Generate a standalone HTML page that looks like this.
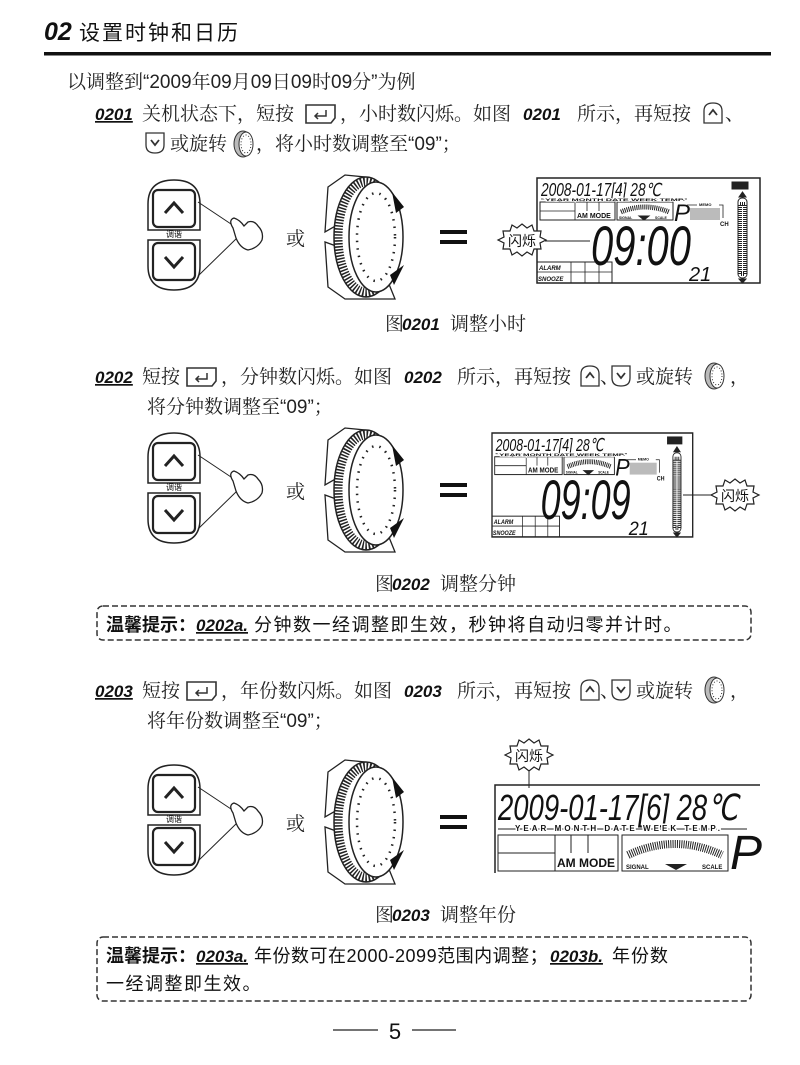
<!DOCTYPE html>
<html><head><meta charset="utf-8"><style>
html,body{margin:0;padding:0;background:#fff;width:800px;height:1065px;overflow:hidden}
svg{display:block}
.s{font-family:"Liberation Sans","Noto Serif CJK SC",serif;font-size:19px;fill:#222}
.h{font-family:"Liberation Sans","Noto Sans CJK SC",sans-serif;fill:#111}
.b{font-family:"Liberation Sans",sans-serif;font-weight:bold;font-style:italic;font-size:17px;fill:#111}
.u{text-decoration:underline}
.lcd{font-family:"Liberation Sans",sans-serif;font-style:italic;fill:#111}
.sm{font-family:"Liberation Sans",sans-serif;font-weight:bold;fill:#111}
</style></head><body>
<svg width="800" height="1065" viewBox="0 0 800 1065" xmlns="http://www.w3.org/2000/svg">
<defs>
 <g id="btns" fill="#fff" stroke="#222">
  <path d="M0,50 L0,24 Q0,0 26,0 Q52,0 52,24 L52,50 Z" stroke-width="1.5"/>
  <rect x="5" y="10" width="42" height="37" rx="5" stroke-width="2.2"/>
  <path d="M17,33 L26,23 L35,33" fill="none" stroke-width="3"/>
  <path d="M0,60 L0,86 Q0,110 26,110 Q52,110 52,86 L52,60 Z" stroke-width="1.5"/>
  <rect x="5" y="63" width="42" height="37" rx="5" stroke-width="2.2"/>
  <path d="M17,77 L26,87 L35,77" fill="none" stroke-width="3"/>
  <path d="M50,22 L92,50 M50,96 L90,57" stroke-width="1"/>
  <path d="M85,48 Q80,40 86,38 Q92,40 96,46 L100,42 Q106,40 110,46 Q116,52 114,60 Q110,68 100,70 Q92,68 88,58 Z" stroke-width="1.3"/>
 </g>
 <g id="dial">
  <path d="M-42,-50 L-25,-62 L-5,-60 L-10,-25 L-45,-5 Z" fill="#fff" stroke="#222" stroke-width="1.3"/>
  <path d="M-42,50 L-25,62 L25,62 L10,25 L-45,5 Z" fill="#fff" stroke="#222" stroke-width="1.3"/>
  <ellipse cx="-4" cy="0" rx="32" ry="60" fill="#fff" stroke="#222" stroke-width="1.5"/>
  <ellipse cx="-4" cy="0" rx="28" ry="55" fill="none" stroke="#222" stroke-width="9" stroke-dasharray="1.5 1.5"/>
  <ellipse cx="6" cy="0" rx="27" ry="55" fill="#fff" stroke="#222" stroke-width="1.5"/>
  <ellipse cx="6" cy="0" rx="19" ry="44" fill="none" stroke="#222" stroke-width="2.5" stroke-dasharray="1.5 6"/>
  <path d="M22,-45 L34,-30 L26,-24 Z M20,38 L34,28 L24,48 Z" fill="#111"/>
 </g>
 <g id="bigeq"><rect x="0" y="0" width="27" height="4" fill="#111"/><rect x="0" y="10" width="27" height="4" fill="#111"/></g>
 <g id="kup" fill="#fff" stroke="#333" stroke-width="1.3"><path d="M0,20 L0,8 Q0,0 9,0 Q18,0 18,8 L18,20 Z"/><path d="M5,12 L9,7 L13,12" fill="none" stroke-width="1.8"/></g>
 <g id="kdn" fill="#fff" stroke="#333" stroke-width="1.3"><path d="M0,0 L0,12 Q0,20 9,20 Q18,20 18,12 L18,0 Z"/><path d="M5,7 L9,12 L13,7" fill="none" stroke-width="1.8"/></g>
 <g id="kent" fill="#fff" stroke="#333" stroke-width="1.6"><path d="M1,1 L30,1 L30,14 L26,19 L1,19 Z"/><path d="M21,6 L21,12 L10,12 M13,9 L10,12 L13,15" fill="none" stroke-width="1.5"/></g>
 <g id="kdial"><ellipse cx="10" cy="11" rx="9" ry="13" fill="#bbb" stroke="#333"/><ellipse cx="13" cy="11" rx="7" ry="12" fill="#fff" stroke="#333"/><ellipse cx="13" cy="11" rx="5" ry="9" fill="none" stroke="#333" stroke-dasharray="1 2"/></g>
 <g id="burst"><polygon points="0,-16 5,-12 10,-15 12,-9 19,-9 18,-3 24,0 18,3 19,9 12,9 10,15 5,12 0,16 -5,12 -10,15 -12,9 -19,9 -18,3 -24,0 -18,-3 -19,-9 -12,-9 -10,-15 -5,-12" fill="#fff" stroke="#222" stroke-width="1.2"/></g>
 <g id="lcdshape" fill="none" stroke="#222">
  <rect x="0" y="0" width="223" height="105" stroke-width="1.5"/>
  <rect x="195" y="4" width="16" height="7" fill="#222" stroke-width="1"/>
  <path d="M4,21 L150,21" stroke-width="0.8"/>
  <rect x="3" y="24" width="75" height="18" stroke-width="1"/>
  <path d="M3,33 L38,33 M38,24 L38,42 M50,24 L50,33 M62,24 L62,33" stroke-width="0.8"/>
  <rect x="80" y="24" width="56" height="18" stroke-width="1"/>
  <path d="M84,34 Q108,24 132,34" stroke-width="5" stroke-dasharray="1 1"/>
  <path d="M102,38 L112,38 L107,42 Z" fill="#222"/>
  <path d="M150,27 L160,27 M182,27 L186,27 L186,40" stroke-width="0.8"/>
  <rect x="153" y="30" width="30" height="12" fill="#bbb" stroke="none"/>
  <rect x="0" y="84" width="75" height="21" stroke-width="1"/>
  <path d="M0,94 L75,94 M34,84 L34,105 M48,84 L48,105 M62,84 L62,105" stroke-width="0.8"/>
  <rect x="201" y="20" width="9" height="80" rx="4" stroke-width="1"/>
  <rect x="203" y="26" width="5" height="70" fill="none" stroke-width="4" stroke-dasharray="1 1"/>
  <path d="M202,19 L209,19 L205.5,14 Z M202,101 L209,101 L205.5,105 Z" fill="#222"/>
 </g>
</defs>

<text x="44" y="40" class="h" font-size="25" font-weight="bold" font-style="italic">02</text>
<text x="79" y="40" class="h" font-size="21" letter-spacing="2">设置时钟和日历</text>
<rect x="44" y="52" width="727" height="3.5" fill="#111"/>

<text x="67" y="88" class="s" font-size="18">以调整到“2009年09月09日09时09分”为例</text>

<text x="95" y="120" class="b u">0201</text>
<text x="142" y="120" class="s">关机状态下，短按</text>
<use href="#kent" x="305" y="104"/>
<text x="340" y="120" class="s">，小时数闪烁。如图</text>
<text x="523" y="120" class="b">0201</text>
<text x="577" y="120" class="s">所示，再短按</text>
<use href="#kup" x="704" y="103"/>
<text x="725" y="120" class="s">、</text>
<use href="#kdn" x="146" y="133"/>
<text x="170" y="150" class="s">或旋转</text>
<use href="#kdial" x="233" y="133"/>
<text x="256" y="150" class="s">，将小时数调整至“09”；</text>

<use href="#btns" x="148" y="180"/>
<text x="174" y="237" class="h" font-size="8" text-anchor="middle">调谐</text>
<text x="286" y="245" class="s" font-size="20">或</text>
<use href="#dial" x="370" y="237"/>
<use href="#bigeq" x="440" y="230"/>
<g transform="translate(537,178)">
 <use href="#lcdshape"/>
 <text x="4" y="18" class="lcd" font-size="18" textLength="120" lengthAdjust="spacingAndGlyphs">2008-01-17[4] 28℃</text>
 <text x="8" y="23" class="sm" font-size="4" textLength="140" lengthAdjust="spacingAndGlyphs" style="paint-order:stroke" stroke="#fff" stroke-width="1.5">YEAR  MONTH  DATE  WEEK  TEMP.</text>
 <text x="40" y="40" class="sm" font-size="7">AM MODE</text>
 <text x="82" y="41" class="sm" font-size="3.5">SIGNAL</text>
 <text x="118" y="41" class="sm" font-size="3.5">SCALE</text>
 <text x="137" y="43" class="lcd" font-size="24" font-weight="300">P</text>
 <text x="162" y="28" class="sm" font-size="4">MEMO</text>
 <text x="183" y="48" class="sm" font-size="6">CH</text>
 <text x="54" y="87" class="lcd" font-size="56" textLength="100" lengthAdjust="spacingAndGlyphs">09:00</text>
 <text x="2" y="92" class="sm" font-size="6" font-style="italic">ALARM</text>
 <text x="1" y="103" class="sm" font-size="6" font-style="italic">SNOOZE</text>
 <text x="152" y="103" class="lcd" font-size="20">21</text>
</g>
<path d="M545,241 L590,241" stroke="#222" stroke-width="1"/>
<use href="#burst" x="522" y="240"/>
<text x="522" y="246" class="h" font-size="14" text-anchor="middle">闪烁</text>

<text x="385" y="330" class="s" font-size="17">图</text><text x="402" y="330" class="b">0201</text><text x="450" y="330" class="s" font-size="17">调整小时</text>

<text x="95" y="383" class="b u">0202</text>
<text x="142" y="383" class="s">短按</text>
<use href="#kent" x="186" y="367"/>
<text x="221" y="383" class="s">，分钟数闪烁。如图</text>
<text x="404" y="383" class="b">0202</text>
<text x="457" y="383" class="s">所示，再短按</text>
<use href="#kup" x="581" y="366"/>
<text x="600" y="383" class="s">、</text>
<use href="#kdn" x="612" y="366"/>
<text x="636" y="383" class="s">或旋转</text>
<use href="#kdial" x="704" y="365"/>
<text x="730" y="383" class="s">，</text>
<text x="147" y="413" class="s">将分钟数调整至“09”；</text>

<use href="#btns" x="148" y="433"/>
<text x="174" y="490" class="h" font-size="8" text-anchor="middle">调谐</text>
<text x="286" y="498" class="s" font-size="20">或</text>
<use href="#dial" x="370" y="490"/>
<use href="#bigeq" x="440" y="483"/>
<g transform="translate(492,433) scale(0.9,0.99)">
 <use href="#lcdshape"/>
 <text x="4" y="18" class="lcd" font-size="18" textLength="120" lengthAdjust="spacingAndGlyphs">2008-01-17[4] 28℃</text>
 <text x="8" y="23" class="sm" font-size="4" textLength="140" lengthAdjust="spacingAndGlyphs" style="paint-order:stroke" stroke="#fff" stroke-width="1.5">YEAR  MONTH  DATE  WEEK  TEMP.</text>
 <text x="40" y="40" class="sm" font-size="7">AM MODE</text>
 <text x="82" y="41" class="sm" font-size="3.5">SIGNAL</text>
 <text x="118" y="41" class="sm" font-size="3.5">SCALE</text>
 <text x="137" y="43" class="lcd" font-size="24">P</text>
 <text x="162" y="28" class="sm" font-size="4">MEMO</text>
 <text x="183" y="48" class="sm" font-size="6">CH</text>
 <text x="54" y="87" class="lcd" font-size="56" textLength="100" lengthAdjust="spacingAndGlyphs">09:09</text>
 <text x="2" y="92" class="sm" font-size="6" font-style="italic">ALARM</text>
 <text x="1" y="103" class="sm" font-size="6" font-style="italic">SNOOZE</text>
 <text x="152" y="103" class="lcd" font-size="20">21</text>
</g>
<path d="M683,495 L713,495" stroke="#222" stroke-width="1"/>
<use href="#burst" x="735" y="495"/>
<text x="735" y="501" class="h" font-size="14" text-anchor="middle">闪烁</text>

<text x="375" y="590" class="s" font-size="17">图</text><text x="392" y="590" class="b">0202</text><text x="440" y="590" class="s" font-size="17">调整分钟</text>

<rect x="97" y="606" width="654" height="34" rx="6" fill="none" stroke="#333" stroke-width="1.5" stroke-dasharray="6 3"/>
<text x="106" y="631" class="h" font-size="18" font-weight="bold">温馨提示：</text>
<text x="196" y="631" class="b u" font-size="18">0202a.</text>
<text x="254" y="631" class="h" font-size="18" letter-spacing="1.5">分钟数一经调整即生效，秒钟将自动归零并计时。</text>

<text x="95" y="697" class="b u">0203</text>
<text x="142" y="697" class="s">短按</text>
<use href="#kent" x="186" y="681"/>
<text x="221" y="697" class="s">，年份数闪烁。如图</text>
<text x="404" y="697" class="b">0203</text>
<text x="457" y="697" class="s">所示，再短按</text>
<use href="#kup" x="581" y="680"/>
<text x="600" y="697" class="s">、</text>
<use href="#kdn" x="612" y="680"/>
<text x="636" y="697" class="s">或旋转</text>
<use href="#kdial" x="704" y="679"/>
<text x="730" y="697" class="s">，</text>
<text x="147" y="727" class="s">将年份数调整至“09”；</text>

<use href="#btns" x="148" y="765"/>
<text x="174" y="822" class="h" font-size="8" text-anchor="middle">调谐</text>
<text x="286" y="830" class="s" font-size="20">或</text>
<use href="#dial" x="370" y="822"/>
<use href="#bigeq" x="440" y="815"/>
<use href="#burst" x="529" y="755"/>
<text x="529" y="761" class="h" font-size="14" text-anchor="middle">闪烁</text>
<path d="M529,771 L529,788" stroke="#222"/>
<g transform="translate(495,785)">
 <path d="M0,88 L0,0 L265,0" fill="none" stroke="#222" stroke-width="1.5"/>
 <text x="3" y="35" class="lcd" font-size="36" textLength="240" lengthAdjust="spacingAndGlyphs">2009-01-17[6] 28℃</text>
 <path d="M3,44 L252,44" stroke="#222" stroke-width="1"/>
 <text x="20" y="46" class="sm" font-size="8" textLength="205" lengthAdjust="spacing" style="paint-order:stroke" stroke="#fff" stroke-width="3">YEAR   MONTH   DATE   WEEK   TEMP.</text>
 <rect x="3" y="50" width="120" height="36" fill="none" stroke="#222"/>
 <path d="M3,68 L60,68 M60,50 L60,86 M76,50 L76,68 M93,50 L93,68" stroke="#222"/>
 <text x="62" y="82" class="sm" font-size="12">AM MODE</text>
 <rect x="127" y="50" width="106" height="36" fill="none" stroke="#222"/>
 <path d="M133,70 Q180,48 227,70" fill="none" stroke="#222" stroke-width="8" stroke-dasharray="1 1.2"/>
 <path d="M170,79 L192,79 L181,85 Z" fill="#222"/>
 <text x="131" y="84" class="sm" font-size="6">SIGNAL</text>
 <text x="207" y="84" class="sm" font-size="6">SCALE</text>
 <text x="235" y="84" class="lcd" font-size="48">P</text>
</g>

<text x="375" y="921" class="s" font-size="17">图</text><text x="392" y="921" class="b">0203</text><text x="440" y="921" class="s" font-size="17">调整年份</text>

<rect x="97" y="937" width="654" height="64" rx="6" fill="none" stroke="#333" stroke-width="1.5" stroke-dasharray="6 3"/>
<text x="106" y="962" class="h" font-size="18" font-weight="bold">温馨提示：</text>
<text x="196" y="962" class="b u" font-size="18">0203a.</text>
<text x="254" y="962" class="h" font-size="18" letter-spacing="0.5">年份数可在2000-2099范围内调整；</text>
<text x="550" y="962" class="b u" font-size="18">0203b.</text>
<text x="612" y="962" class="h" font-size="18" letter-spacing="1">年份数</text>
<text x="106" y="990" class="h" font-size="18" letter-spacing="1.5">一经调整即生效。</text>

<path d="M333,1030 L378,1030 M412,1030 L456,1030" stroke="#222" stroke-width="1.3"/>
<text x="395" y="1039" class="h" font-size="22" text-anchor="middle">5</text>
</svg>
</body></html>
